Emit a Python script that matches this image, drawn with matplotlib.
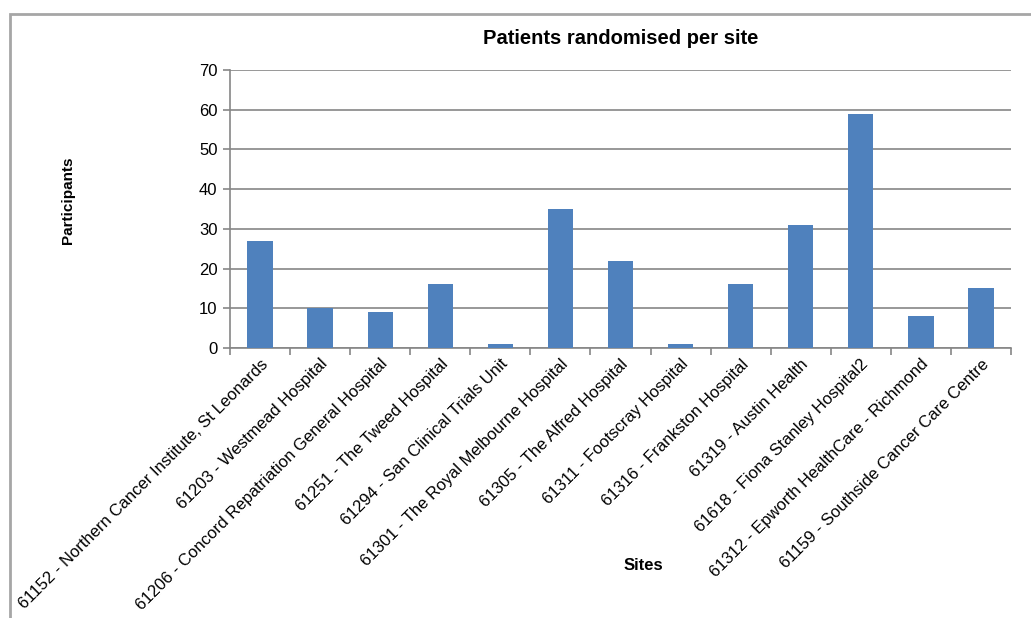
import matplotlib
matplotlib.use("Agg")
from matplotlib import pyplot as plt
from matplotlib.patches import Rectangle
import numpy as np

plt.rcParams['font.family'] = ['Liberation Sans', 'DejaVu Sans']

sites = [
    "61152 - Northern Cancer Institute, St Leonards",
    "61203 - Westmead Hospital",
    "61206 - Concord Repatriation General Hospital",
    "61251 - The Tweed Hospital",
    "61294 - San Clinical Trials Unit",
    "61301 - The Royal Melbourne Hospital",
    "61305 - The Alfred Hospital",
    "61311 - Footscray Hospital",
    "61316 - Frankston Hospital",
    "61319 - Austin Health",
    "61618 - Fiona Stanley Hospital2",
    "61312 - Epworth HealthCare - Richmond",
    "61159 - Southside Cancer Care Centre",
]
patients = [27, 10, 9, 16, 1, 35, 22, 1, 16, 31, 59, 8, 15]

W, H = 1031, 618
fig = plt.figure(figsize=(W / 100, H / 100), dpi=100)

# outer chart border (gray, runs off the right/bottom edge)
fig.patches.append(Rectangle((10 / W, -0.05), 1.1, 1 - 14 / H + 0.05,
                             transform=fig.transFigure, fill=False,
                             edgecolor="#a6a6a6", linewidth=2))

ax = fig.add_axes([230 / W, 1 - 348 / H, (1011 - 230) / W, (348 - 70) / H])

x = np.arange(len(sites))
ax.bar(x, patients, width=0.42, color="#4f81bd", zorder=3)

ax.set_xlim(-0.5, len(sites) - 0.5)
ax.set_ylim(0, 70)
ax.set_yticks(range(0, 71, 10))
ax.yaxis.grid(True, color="#868686", linewidth=1.2, zorder=0)

ax.set_xticks(np.arange(-0.5, len(sites), 1), minor=False)
ax.set_xticklabels([])
ax.set_xticks(x, minor=True)
ax.set_xticklabels(sites, minor=True, rotation=45, ha="right",
                   rotation_mode="anchor", fontsize=12)
ax.tick_params(axis="x", which="major", length=5, color="#868686", width=1.2)
ax.tick_params(axis="x", which="minor", length=0, pad=6)
ax.tick_params(axis="y", length=5, color="#868686", width=1.2,
               labelsize=12, pad=4)

for s in ["top", "right"]:
    ax.spines[s].set_visible(False)
for s in ["left", "bottom"]:
    ax.spines[s].set_color("#868686")
    ax.spines[s].set_linewidth(1.2)

fig.text(621 / W, 1 - 38 / H, "Patients randomised per site",
         ha="center", va="center", fontsize=14.5, fontweight="bold")
fig.text(68 / W, 1 - 200 / H, "Participants", rotation=90,
         ha="center", va="center", fontsize=11, fontweight="bold")
fig.text(643 / W, 1 - 565 / H, "Sites",
         ha="center", va="center", fontsize=12, fontweight="bold")

fig.savefig("out.png", dpi=100)
